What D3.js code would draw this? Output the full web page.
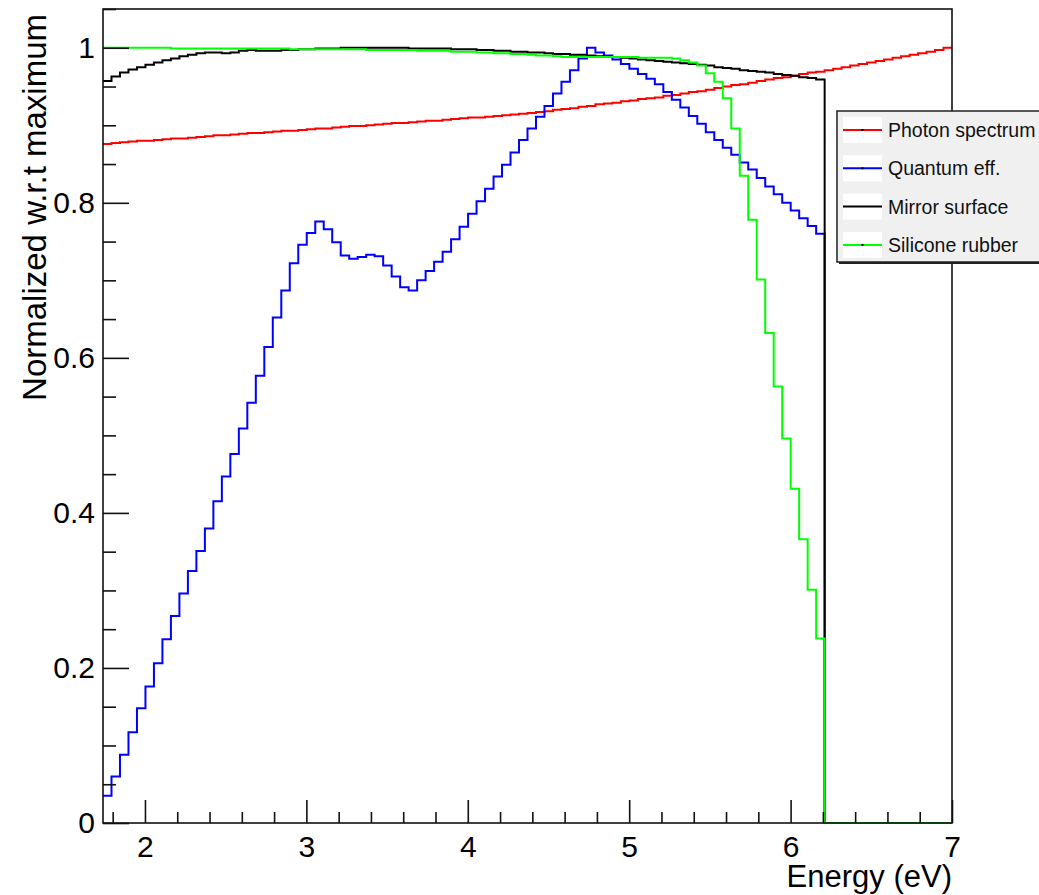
<!DOCTYPE html>
<html>
<head>
<meta charset="utf-8">
<script src="https://cdn.jsdelivr.net/npm/d3@7"></script>
<style>
body { margin: 0; background: #fff; }
text { font-family: "Liberation Sans", Arial, Helvetica, sans-serif; }
</style>
</head>
<body>
<svg width="1039" height="895"></svg>
<script>
// chart size
var width = 1039;
var height = 895;

// histogram binning (100 bins over the energy range)
var energyMin = 1.74;
var energyMax = 7.0;
var nBins = 100;

// normalized values, one per bin
var photonSpectrum = [
  0.876, 0.877, 0.878, 0.879, 0.880, 0.880, 0.881, 0.882, 0.883, 0.883,
  0.884, 0.885, 0.886, 0.887, 0.887, 0.888, 0.889, 0.890, 0.890, 0.891,
  0.892, 0.893, 0.893, 0.894, 0.895, 0.896, 0.896, 0.897, 0.898, 0.899,
  0.899, 0.900, 0.901, 0.902, 0.903, 0.903, 0.904, 0.905, 0.906, 0.906,
  0.907, 0.908, 0.909, 0.910, 0.910, 0.911, 0.912, 0.913, 0.914, 0.915,
  0.916, 0.917, 0.918, 0.920, 0.921, 0.922, 0.924, 0.925, 0.927, 0.928,
  0.929, 0.931, 0.932, 0.934, 0.935, 0.936, 0.938, 0.939, 0.941, 0.943,
  0.944, 0.946, 0.948, 0.950, 0.952, 0.953, 0.955, 0.957, 0.959, 0.961,
  0.962, 0.964, 0.966, 0.968, 0.969, 0.971, 0.973, 0.975, 0.977, 0.979,
  0.981, 0.983, 0.985, 0.987, 0.989, 0.991, 0.993, 0.995, 0.997, 1.000
];

var quantumEff = [
  0.035, 0.060, 0.088, 0.117, 0.148, 0.176, 0.206, 0.237, 0.267, 0.296,
  0.325, 0.351, 0.380, 0.415, 0.447, 0.476, 0.509, 0.542, 0.577, 0.614,
  0.652, 0.687, 0.722, 0.746, 0.761, 0.776, 0.766, 0.749, 0.732, 0.728,
  0.730, 0.733, 0.731, 0.719, 0.705, 0.691, 0.687, 0.700, 0.712, 0.724,
  0.737, 0.753, 0.769, 0.786, 0.802, 0.818, 0.834, 0.849, 0.865, 0.881,
  0.896, 0.911, 0.925, 0.941, 0.956, 0.971, 0.986, 1.000, 0.994, 0.990,
  0.985, 0.979, 0.973, 0.966, 0.960, 0.953, 0.943, 0.933, 0.923, 0.912,
  0.902, 0.891, 0.881, 0.871, 0.862, 0.852, 0.843, 0.832, 0.821, 0.811,
  0.800, 0.790, 0.780, 0.770, 0.760, 0, 0, 0, 0, 0,
  0, 0, 0, 0, 0, 0, 0, 0, 0, 0
];

var mirrorSurface = [
  0.957, 0.963, 0.968, 0.972, 0.975, 0.978, 0.981, 0.984, 0.986, 0.989,
  0.991, 0.993, 0.994, 0.994, 0.993, 0.994, 0.996, 0.997, 0.996, 0.996,
  0.996, 0.997, 0.997, 0.998, 0.998, 0.999, 0.999, 0.999, 1.000, 1.000,
  1.000, 1.000, 1.000, 1.000, 1.000, 1.000, 0.999, 0.999, 0.999, 0.999,
  0.999, 0.998, 0.998, 0.998, 0.997, 0.997, 0.996, 0.996, 0.995, 0.995,
  0.994, 0.994, 0.993, 0.992, 0.992, 0.991, 0.991, 0.990, 0.989, 0.988,
  0.988, 0.987, 0.986, 0.985, 0.984, 0.983, 0.982, 0.981, 0.980, 0.979,
  0.978, 0.977, 0.975, 0.974, 0.973, 0.971, 0.970, 0.969, 0.968, 0.966,
  0.965, 0.964, 0.962, 0.961, 0.959, 0, 0, 0, 0, 0,
  0, 0, 0, 0, 0, 0, 0, 0, 0, 0
];

var siliconeRubber = [
  1.000, 1.000, 1.000, 1.000, 1.000, 1.000, 1.000, 1.000, 0.999, 0.999,
  0.999, 0.999, 0.999, 0.999, 0.999, 0.999, 0.999, 0.999, 0.999, 0.999,
  0.999, 0.999, 0.998, 0.998, 0.998, 0.998, 0.998, 0.998, 0.998, 0.998,
  0.998, 0.997, 0.997, 0.997, 0.997, 0.997, 0.997, 0.996, 0.996, 0.996,
  0.996, 0.995, 0.995, 0.995, 0.994, 0.994, 0.993, 0.993, 0.992, 0.992,
  0.991, 0.990, 0.990, 0.989, 0.988, 0.988, 0.988, 0.988, 0.988, 0.988,
  0.988, 0.988, 0.988, 0.987, 0.987, 0.987, 0.987, 0.986, 0.984, 0.981,
  0.977, 0.967, 0.956, 0.935, 0.896, 0.835, 0.778, 0.701, 0.632, 0.563,
  0.496, 0.431, 0.366, 0.301, 0.238, 0, 0, 0, 0, 0,
  0, 0, 0, 0, 0, 0, 0, 0, 0, 0
];

var seriesNames = ["Photon spectrum", "Quantum eff.", "Mirror surface", "Silicone rubber"];
var seriesColors = ["#ff0000", "#0000ff", "#000000", "#00ff00"];

// tick values
var xMajorTicks = [2, 3, 4, 5, 6, 7];
var xMinorTicks = [1.8, 2.2, 2.4, 2.6, 2.8, 3.2, 3.4, 3.6, 3.8, 4.2, 4.4, 4.6, 4.8,
                   5.2, 5.4, 5.6, 5.8, 6.2, 6.4, 6.6, 6.8];
var yMajorTicks = [0, 0.2, 0.4, 0.6, 0.8, 1];
var yMinorTicks = [0.05, 0.1, 0.15, 0.25, 0.3, 0.35, 0.45, 0.5, 0.55, 0.65, 0.7, 0.75,
                   0.85, 0.9, 0.95, 1.05];

var x = d3.scaleLinear()
    .domain([energyMin, energyMax])
    .range([103, 952]);

var y = d3.scaleLinear()
    .domain([0, 1.05])
    .range([823, 9]);

var binWidth = (energyMax - energyMin) / nBins;

// bin edges -> step line points
function binPoints(values) {
    var pts = values.map(function(v, i) { return [energyMin + i * binWidth, v]; });
    pts.push([energyMax, values[values.length - 1]]);
    return pts;
}

var line = d3.line()
    .x(function(d) { return x(d[0]); })
    .y(function(d) { return y(d[1]); })
    .curve(d3.curveStepAfter);

var svg = d3.select("svg")
    .attr("width", width)
    .attr("height", height);

// histograms, drawn in legend order
var allSeries = [photonSpectrum, quantumEff, mirrorSurface, siliconeRubber];
allSeries.forEach(function(values, i) {
    svg.append("path")
        .attr("d", line(binPoints(values)))
        .attr("fill", "none")
        .attr("stroke", seriesColors[i])
        .attr("stroke-width", 2);
});

// frame
svg.append("rect")
    .attr("x", x.range()[0])
    .attr("y", y.range()[1])
    .attr("width", x.range()[1] - x.range()[0])
    .attr("height", y.range()[0] - y.range()[1])
    .attr("fill", "none")
    .attr("stroke", "#111")
    .attr("stroke-width", 1.6);

var fmt = d3.format("~g");

// y axis (ticks point inside the frame)
var gy = svg.append("g").attr("transform", "translate(" + x.range()[0] + ",0)");
gy.call(d3.axisLeft(y).tickValues(yMajorTicks).tickSizeInner(-26).tickSizeOuter(0)
        .tickPadding(8).tickFormat(fmt));
gy.append("g").call(d3.axisLeft(y).tickValues(yMinorTicks).tickSizeInner(-13)
        .tickSizeOuter(0).tickFormat(""));

// x axis
var gx = svg.append("g").attr("transform", "translate(0," + y.range()[0] + ")");
gx.call(d3.axisBottom(x).tickValues(xMajorTicks).tickSizeInner(-23).tickSizeOuter(0)
        .tickPadding(13).tickFormat(fmt));
gx.append("g").call(d3.axisBottom(x).tickValues(xMinorTicks).tickSizeInner(-11)
        .tickSizeOuter(0).tickFormat(""));

svg.selectAll(".domain").remove();
svg.selectAll(".tick line").attr("stroke", "#111").attr("stroke-width", 1.6);
svg.selectAll(".tick text")
    .attr("fill", "#000")
    .style("font-size", "30px")
    .style("font-family", "'Liberation Sans', Arial, sans-serif");

// axis titles
svg.append("text")
    .attr("x", 952)
    .attr("y", 887)
    .attr("text-anchor", "end")
    .style("font-size", "31px")
    .text("Energy (eV)");

svg.append("text")
    .attr("transform", "translate(46,14) rotate(-90)")
    .attr("text-anchor", "end")
    .style("font-size", "33px")
    .text("Normalized w.r.t maximum");

// legend
var lg = svg.append("g").attr("class", "legend");
lg.append("rect")
    .attr("x", 839).attr("y", 113)
    .attr("width", 220).attr("height", 151)
    .attr("fill", "#222");
lg.append("rect")
    .attr("x", 837).attr("y", 111)
    .attr("width", 220).attr("height", 151)
    .attr("fill", "#f0f0f0")
    .attr("stroke", "#222")
    .attr("stroke-width", 1.5);

var rows = lg.selectAll(".row")
    .data(seriesNames)
    .enter().append("g")
    .attr("class", "row")
    .attr("transform", function(d, i) { return "translate(0," + (130 + i * 38.3) + ")"; });

rows.append("rect")
    .attr("x", 843).attr("y", -13)
    .attr("width", 39).attr("height", 26)
    .attr("fill", "#fff");

rows.append("line")
    .attr("x1", 843).attr("x2", 882)
    .attr("y1", 0).attr("y2", 0)
    .attr("stroke", function(d, i) { return seriesColors[i]; })
    .attr("stroke-width", 2);

rows.filter(function(d, i) { return i !== 2; })
    .append("rect")
    .attr("x", 861.5).attr("y", -1)
    .attr("width", 2).attr("height", 2)
    .attr("fill", "#000");

rows.append("text")
    .attr("x", 888)
    .attr("y", 7)
    .style("font-size", "19.5px")
    .attr("fill", "#111")
    .text(function(d) { return d; });
</script>
</body>
</html>
